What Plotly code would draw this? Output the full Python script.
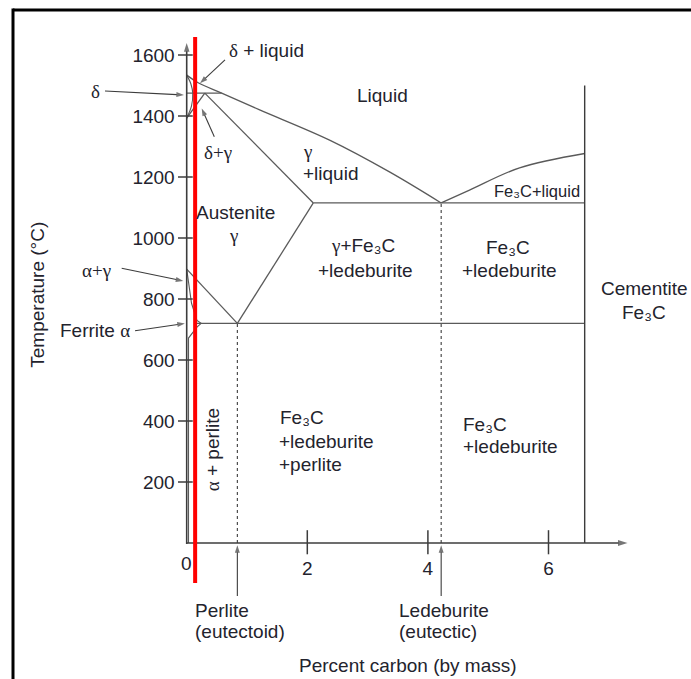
import plotly.graph_objects as go

# ---------------- data (x = % carbon, y = temperature °C) -------------
y_tick_vals = [200, 400, 600, 800, 1000, 1200, 1400, 1600]
x_tick_vals = [2, 4, 6]

liquidus_x = [0, 0.19, 0.58, 1.21, 2.37, 3.37, 4.22]
liquidus_T = [1534, 1509, 1475, 1420, 1321, 1216, 1115]

fe3c_liquidus_x = [4.22, 4.69, 5.52, 6.60]
fe3c_liquidus_T = [1115, 1157, 1230, 1277]

delta_x = [0, 0.07, 0.10, 0.08, 0]
delta_T = [1534, 1505, 1475, 1433, 1393]

peritectic_x = [0, 0.58]
peritectic_T = [1475, 1475]

a4_x = [0, 0.30]
a4_T = [1393, 1475]

gamma_solidus_x = [0.30, 2.10]
gamma_solidus_T = [1475, 1115]

eutectic_line_x = [2.10, 6.60]
eutectic_line_T = [1115, 1115]

acm_x = [2.10, 0.84]
acm_T = [1115, 720]

a3_x = [0, 0.84]
a3_T = [898, 720]

eutectoid_line_x = [0.17, 6.60]
eutectoid_line_T = [720, 720]

alpha_x = [0, 0.08, 0.17, 0.24, 0.17, 0.03, 0.03]
alpha_T = [898, 786, 730, 720, 708, 672, 0]

cementite_x = [6.60, 6.60]
cementite_T = [0, 1500]

eutectoid_dot_x = [0.84, 0.84]
eutectoid_dot_T = [0, 720]
eutectic_dot_x = [4.22, 4.22]
eutectic_dot_T = [0, 1115]

red_x = [0.14, 0.14]
red_T = [-131, 1659]

x_axis_end = 7.31
y_axis_end = 1639

# ---------------- figure ----------------
W, H = 691, 679
PX_PER_C = 60.3      # pixels per % carbon
PX_PER_T = 0.305     # pixels per °C
X0_PX, Y0_PX = 186.7, 543

x_range = [-X0_PX / PX_PER_C, (W - X0_PX) / PX_PER_C]
y_range = [(Y0_PX - H) / PX_PER_T, Y0_PX / PX_PER_T]

LINE = "#5a5a5a"
AX = "#3c3c3c"
TXT = "#23232d"
FONT = "Liberation Sans, Arial, sans-serif"
FS = 19
FE3C = "Fe₃C"

fig = go.Figure()


def add_line(xs, ys, color=LINE, width=1.3, dash="solid", shape="linear"):
    fig.add_trace(go.Scatter(x=xs, y=ys, mode="lines",
                             line=dict(color=color, width=width, dash=dash, shape=shape,
                                       smoothing=1.0 if shape == "spline" else None),
                             hoverinfo="skip", showlegend=False))


def arrow(x_tip, y_tip, x_tail, y_tail, width=1.1, size=8, color=AX):
    fig.add_trace(go.Scatter(x=[x_tail, x_tip], y=[y_tail, y_tip], mode="lines+markers",
                             line=dict(color=color, width=width),
                             marker=dict(symbol=["circle", "arrow"], size=[0, size],
                                         angleref="previous", color=color,
                                         line=dict(width=0)),
                             hoverinfo="skip", showlegend=False))


add_line(liquidus_x, liquidus_T, shape="spline")
add_line(fe3c_liquidus_x, fe3c_liquidus_T, shape="spline")
add_line(delta_x, delta_T, width=1.1, shape="spline")
add_line(peritectic_x, peritectic_T)
add_line(a4_x, a4_T)
add_line(gamma_solidus_x, gamma_solidus_T)
add_line(eutectic_line_x, eutectic_line_T)
add_line(acm_x, acm_T)
add_line(a3_x, a3_T)
add_line(eutectoid_line_x, eutectoid_line_T)
add_line(alpha_x, alpha_T, width=1.1)
add_line(cementite_x, cementite_T, color=AX, width=1.4)
add_line(eutectoid_dot_x, eutectoid_dot_T, color=AX, width=1.1, dash="dot")
add_line(eutectic_dot_x, eutectic_dot_T, color=AX, width=1.1, dash="dot")

# tick marks (crossing the axes)
for v in y_tick_vals:
    add_line([-0.145, 0.10], [v, v], color=AX, width=1.5)
for v in x_tick_vals:
    add_line([v, v], [42, -37], color=AX, width=1.5)

# axes with arrowheads
arrow(x_axis_end, 0, 0, 0, width=1.6, size=10)
arrow(0, y_axis_end, 0, -3, width=1.6, size=9)

# invisible trace that carries the tick-label axes (x2 / y2)
fig.add_trace(go.Scatter(x=[1], y=[100], xaxis="x2", yaxis="y2", mode="markers",
                         marker=dict(size=1, opacity=0), hoverinfo="skip", showlegend=False))

annotations = []


def label(x, y, text, size=FS, xanchor="center", align="center", angle=0):
    annotations.append(dict(x=x, y=y, xref="x", yref="y", text=text, showarrow=False,
                            xanchor=xanchor, yanchor="middle", align=align, textangle=angle,
                            font=dict(family=FONT, size=size, color=TXT)))


label(0, -66, "0")

G = "<span style='font-family:Liberation Serif, serif'>"
E = "</span>"

# region labels and pointer arrows
label(0.668, 1616, G + "δ" + E + " + liquid", xanchor="left")
arrow(0.221, 1507, 0.635, 1584)
label(-1.52, 1479, G + "δ" + E)
arrow(-0.045, 1469, -1.355, 1482)
label(0.519, 1279, G + "δ+γ" + E)
arrow(0.249, 1425, 0.458, 1332)
label(3.239, 1466, "Liquid")
label(1.896, 1285, G + "γ" + E, xanchor="left")
label(1.896, 1210, "+liquid", xanchor="left")
label(0.804, 1085, "Austenite")
label(0.784, 1007, G + "γ" + E)
label(5.81, 1154, FE3C + "+liquid", size=16.5)
label(2.924, 974, G + "γ" + E + "+" + FE3C)
label(2.957, 895, "+ledeburite")
label(5.33, 970, FE3C)
label(5.345, 895, "+ledeburite")
label(7.584, 833, "Cementite")
label(7.584, 757, FE3C)
label(-1.488, 892, G + "α+γ" + E)
arrow(-0.056, 859, -1.078, 901)
label(-1.521, 698, "Ferrite " + G + "α" + E)
arrow(-0.03, 720, -0.857, 696)
label(0.441, 305, G + "α" + E + " + perlite", angle=-90)
label(1.514, 410, FE3C, xanchor="left")
label(1.497, 334, "+ledeburite", xanchor="left")
label(1.497, 256, "+perlite", xanchor="left")
label(4.549, 390, FE3C, xanchor="left")
label(4.549, 318, "+ledeburite", xanchor="left")

# bottom annotations
label(0.109, -222, "Perlite", xanchor="left")
label(0.109, -291, "(eutectoid)", xanchor="left")
arrow(0.84, -7, 0.84, -174)
label(3.49, -222, "Ledeburite", xanchor="left")
label(3.49, -291, "(eutectic)", xanchor="left")
arrow(4.22, -7, 4.22, -174)
label(3.662, -400, "Percent carbon (by mass)")
label(-2.488, 813, "Temperature (°C)", angle=-90)

# red marker line (drawn on top of everything)
add_line(red_x, red_T, color="#ff0000", width=4)

shapes = [
    dict(type="line", xref="paper", yref="paper", x0=13 / W, x1=1.0, y0=1 - 10 / H, y1=1 - 10 / H,
         line=dict(color="black", width=3)),
    dict(type="line", xref="paper", yref="paper", x0=13 / W, x1=13 / W, y0=0, y1=1 - 8.5 / H,
         line=dict(color="black", width=3)),
]

tick_font = dict(family=FONT, size=FS, color=TXT)
fig.update_layout(
    width=W, height=H,
    margin=dict(l=0, r=0, t=0, b=0),
    paper_bgcolor="white", plot_bgcolor="rgba(0,0,0,0)",
    xaxis=dict(range=x_range, visible=False, fixedrange=True, domain=[0, 1]),
    yaxis=dict(range=y_range, visible=False, fixedrange=True, domain=[0, 1]),
    xaxis2=dict(domain=[X0_PX / W, 1], anchor="y2", range=[0, (W - X0_PX) / PX_PER_C],
                tickmode="array", tickvals=x_tick_vals, ticktext=[str(v) for v in x_tick_vals],
                ticks="", showline=False, showgrid=False, zeroline=False, fixedrange=True,
                tickfont=tick_font, ticklabelstandoff=12),
    yaxis2=dict(domain=[(H - Y0_PX) / H, 1], anchor="x2", range=[0, Y0_PX / PX_PER_T],
                tickmode="array", tickvals=y_tick_vals, ticktext=[str(v) for v in y_tick_vals],
                ticks="", showline=False, showgrid=False, zeroline=False, fixedrange=True,
                tickfont=tick_font, ticklabelstandoff=11),
    annotations=annotations,
    shapes=shapes,
    showlegend=False,
)

fig.write_html("out.html", config={"displayModeBar": False},
               post_script="document.body.style.margin='0';")
